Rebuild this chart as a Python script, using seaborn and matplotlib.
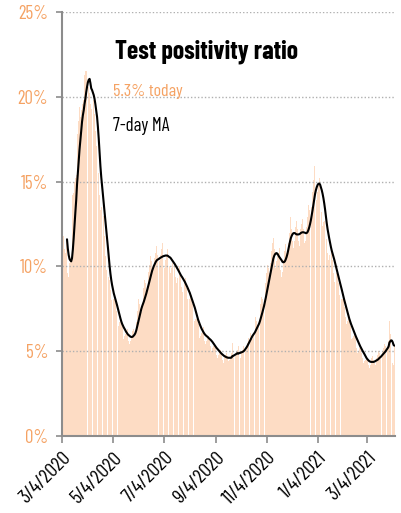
import matplotlib
matplotlib.use("Agg")
import matplotlib.pyplot as plt
import matplotlib.font_manager as fm
import numpy as np
import pandas as pd
import seaborn as sns

# daily test positivity (%), 3/4/2020 .. 4/6/2021, one row per week
positivity = [
    13.5, 12.0, 11.8, 11.0, 10.8, 11.5, 10.6,
    9.6, 9.4, 10.2, 10.4, 10.4, 12.8, 14.2,
    14.3, 15.0, 15.2, 15.4, 16.9, 17.8, 18.6,
    19.4, 18.8, 19.2, 19.0, 19.6, 19.8, 21.3,
    21.5, 21.5, 21.4, 20.9, 20.6, 20.2, 19.6,
    19.3, 20.8, 20.4, 19.8, 19.0, 18.0, 17.1,
    16.6, 16.7, 15.5, 14.2, 13.3, 13.5, 13.5,
    13.2, 13.0, 11.8, 10.6, 9.8, 9.7, 9.7,
    9.4, 9.2, 8.6, 8.0, 7.7, 7.9, 8.1,
    8.1, 8.0, 7.4, 6.7, 6.4, 6.5, 6.7,
    6.8, 6.8, 6.4, 5.9, 5.7, 5.9, 6.0,
    6.2, 6.3, 5.9, 5.6, 5.4, 5.6, 5.9,
    6.2, 6.5, 6.3, 6.0, 6.1, 6.7, 7.4,
    7.7, 8.1, 7.8, 7.5, 7.3, 7.8, 8.3,
    8.7, 9.2, 9.0, 8.6, 8.6, 9.1, 9.7,
    10.1, 10.6, 10.3, 9.9, 9.6, 10.0, 10.5,
    10.8, 11.2, 10.7, 10.1, 9.8, 10.3, 10.7,
    11.0, 11.4, 10.9, 10.2, 9.9, 10.4, 10.7,
    11.0, 11.2, 10.6, 10.0, 9.6, 9.9, 10.2,
    10.5, 10.7, 10.1, 9.4, 9.0, 9.3, 9.6,
    9.8, 10.0, 9.5, 8.8, 8.5, 8.7, 9.0,
    9.2, 9.3, 8.7, 8.1, 7.7, 8.0, 8.1,
    8.2, 8.3, 7.8, 7.1, 6.7, 6.8, 6.9,
    6.9, 7.0, 6.6, 6.1, 5.8, 5.9, 6.1,
    6.2, 6.4, 6.0, 5.6, 5.4, 5.6, 5.8,
    5.9, 6.0, 5.7, 5.3, 5.0, 5.2, 5.3,
    5.4, 5.5, 5.2, 4.8, 4.6, 4.8, 4.9,
    5.0, 5.1, 4.8, 4.5, 4.3, 4.5, 4.7,
    4.8, 4.9, 4.7, 4.4, 4.3, 4.5, 4.7,
    4.9, 5.5, 4.8, 4.6, 4.5, 4.7, 5.0,
    5.1, 5.3, 5.0, 4.7, 4.6, 4.9, 5.1,
    5.3, 5.6, 5.4, 5.2, 5.1, 5.5, 5.8,
    6.1, 6.3, 6.1, 5.8, 5.7, 6.0, 6.3,
    6.6, 7.0, 6.8, 6.5, 6.4, 6.8, 7.3,
    7.8, 8.2, 8.1, 7.8, 7.8, 8.4, 9.0,
    9.6, 10.1, 9.9, 9.6, 9.5, 10.2, 10.9,
    11.4, 11.7, 11.0, 10.3, 9.9, 10.3, 10.6,
    10.8, 11.1, 10.5, 9.8, 9.4, 9.7, 10.4,
    10.9, 11.5, 11.3, 10.8, 10.7, 11.4, 12.0,
    12.6, 12.9, 12.2, 11.5, 11.1, 11.5, 11.9,
    12.3, 12.7, 12.2, 11.5, 11.2, 11.7, 12.2,
    12.5, 12.8, 12.2, 11.4, 11.1, 11.5, 12.3,
    12.9, 13.6, 13.3, 12.8, 12.7, 13.5, 14.4,
    15.1, 15.9, 15.5, 14.4, 13.9, 14.4, 14.9,
    15.2, 15.5, 14.4, 13.2, 12.4, 12.6, 12.7,
    12.7, 12.6, 11.6, 10.8, 10.4, 10.7, 10.9,
    11.0, 11.1, 10.4, 9.6, 9.1, 9.3, 9.5,
    9.6, 9.6, 9.0, 8.3, 7.8, 8.0, 8.1,
    8.1, 8.2, 7.6, 7.0, 6.6, 6.6, 6.8,
    6.9, 6.9, 6.5, 6.0, 5.7, 5.8, 5.9,
    6.0, 6.0, 5.6, 5.2, 4.9, 5.0, 5.2,
    5.2, 5.3, 4.9, 4.6, 4.3, 4.4, 4.5,
    4.6, 4.7, 4.5, 4.2, 4.0, 4.2, 4.4,
    4.6, 4.7, 4.5, 4.3, 4.2, 4.4, 4.6,
    4.8, 5.0, 4.9, 4.6, 4.5, 4.8, 5.0,
    5.2, 5.4, 5.3, 5.1, 5.0, 5.3, 5.6,
    6.8, 6.0, 5.7, 5.0, 4.3, 4.2, 5.3,
]
start_date = "2020-03-04"
tick_dates = ["2020-03-04", "2020-05-04", "2020-07-04", "2020-09-04",
              "2020-11-04", "2021-01-04", "2021-03-04"]
tick_labels = ["3/4/2020", "5/4/2020", "7/4/2020", "9/4/2020",
               "11/4/2020", "1/4/2021", "3/4/2021"]
y_ticks = [0, 5, 10, 15, 20, 25]

orange = "#f5a263"
bar_color = "#fddcc4"

df = pd.DataFrame({
    "date": pd.date_range(start_date, periods=len(positivity), freq="D"),
    "pct": positivity,
})
df["ma7"] = df["pct"].rolling(7).mean()

sns.set_style("white")

# condensed grotesque, first one that is installed
installed = {f.name for f in fm.fontManager.ttflist}
narrow = [n for n in ["Barlow Condensed", "Roboto Condensed", "Archivo Narrow",
                      "PT Sans Narrow"] if n in installed]
plt.rcParams["font.family"] = narrow[:1] + ["DejaVu Sans"]

fig = plt.figure(figsize=(4.01, 5.13), dpi=100)
ax = fig.add_axes([0.1546, 0.150, 0.830, 0.8266])

ax.bar(df["date"], df["pct"], width=0.9, color=bar_color, linewidth=0, zorder=1)
sns.lineplot(data=df, x="date", y="ma7", color="black", linewidth=1.5,
             ax=ax, zorder=3)

ax.set_xlim(pd.Timestamp(start_date), pd.Timestamp(start_date) + pd.Timedelta(days=398.5))
ax.set_ylim(0, 25)
ax.set_yticks(y_ticks)
ax.set_yticklabels([f"{v}%" for v in y_ticks], color=orange, fontsize=13.5)
ax.set_xticks(pd.to_datetime(tick_dates))
ax.set_xticklabels(tick_labels, rotation=45, ha="right", rotation_mode="anchor",
                   fontsize=14.5, color="black")
ax.set_xlabel("")
ax.set_ylabel("")

for v in y_ticks[1:]:
    ax.axhline(v, color="#b0b0b0", linewidth=1, linestyle=(0, (1, 1.5)), zorder=2)

sns.despine(ax=ax, top=True, right=True)
for side in ["left", "bottom"]:
    ax.spines[side].set_color("#8c8c8c")
    ax.spines[side].set_linewidth(1.5)
ax.tick_params(axis="x", length=5, width=1.2, color="#8c8c8c", pad=4, bottom=True)
ax.tick_params(axis="y", length=4, width=1.2, color="#8c8c8c", pad=6, left=True)

fig.text(0.287, 0.8986, "Test positivity ratio", fontsize=18.5, fontweight="bold",
         va="center", ha="left", color="black")
fig.text(0.282, 0.8226, f"{positivity[-1]}% today", fontsize=13, color=orange,
         va="center", ha="left")
fig.text(0.282, 0.7544, "7-day MA", fontsize=13.5, color="black",
         va="center", ha="left")

fig.savefig("out.png", dpi=100, facecolor="white")
